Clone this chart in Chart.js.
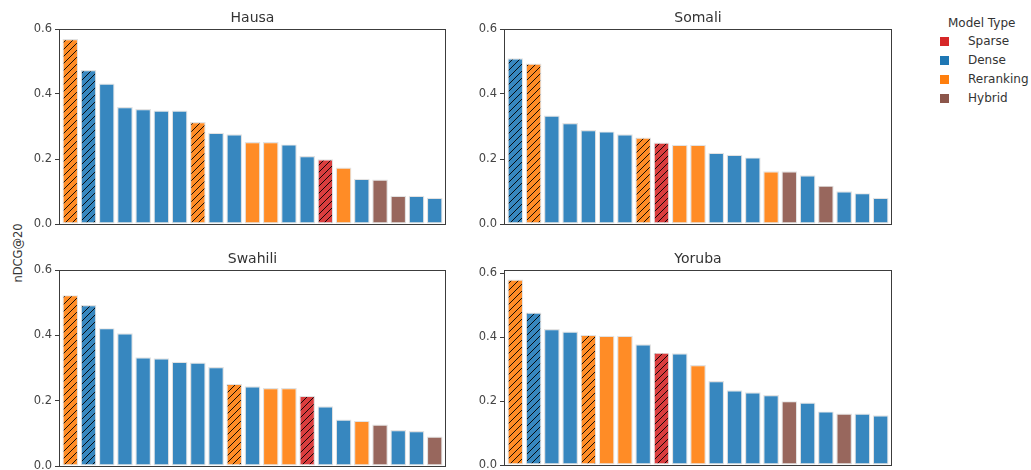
<!DOCTYPE html>
<html lang="en">
<head>
  <meta charset="UTF-8">
  <title>nDCG@20 by language</title>
  <script src="https://cdn.jsdelivr.net/npm/chart.js"></script>
  <style>
    body { margin: 0; background: #fff; font-family: "DejaVu Sans", sans-serif; }
    #page { position: relative; width: 1031px; height: 470px; overflow: hidden; }
    .panel { position: absolute; line-height: 0; }
    #ylabel { position: absolute; left: 18px; top: 253px; transform: translate(-50%, -50%) rotate(-90deg);
              font-size: 11.5px; color: #333; white-space: nowrap; }
    #legend { position: absolute; left: 930px; top: 13px; font-size: 12px; color: #333; }
    #legend .ttl { position: absolute; left: 51.7px; top: 9.7px; transform: translate(-50%, -50%); white-space: nowrap; }
    #legend .item { position: absolute; left: 10px; height: 14px; white-space: nowrap; }
    #legend .sw { position: absolute; left: 0; top: 2px; width: 9px; height: 9px; }
    #legend .lb { position: absolute; left: 28px; top: -1px; }
  </style>
</head>
<body>
<div id="page">
  <div id="ylabel">nDCG@20</div>
  <div id="legend"></div>
</div>

<script>
  // model types and colours
  const modelTypes = ["Sparse", "Dense", "Reranking", "Hybrid"];
  const legendColors = ["#d62728", "#1f77b4", "#ff7f0e", "#8c564b"];
  const barColors = ["#da3d3e", "#3787bf", "#ff8c26", "#98675d"];

  // Hausa
  const hausaScores = [0.569, 0.474, 0.432, 0.360, 0.354, 0.349, 0.349, 0.314, 0.281, 0.276, 0.252,
                       0.252, 0.245, 0.209, 0.199, 0.174, 0.139, 0.137, 0.087, 0.087, 0.081];
  const hausaTypes = ["Reranking", "Dense", "Dense", "Dense", "Dense", "Dense", "Dense", "Reranking", "Dense", "Dense", "Reranking",
                      "Reranking", "Dense", "Dense", "Sparse", "Reranking", "Dense", "Hybrid", "Hybrid", "Dense", "Dense"];
  const hausaHatch = [1, 1, 0, 0, 0, 0, 0, 1, 0, 0, 0, 0, 0, 0, 1, 0, 0, 0, 0, 0, 0];

  // Somali
  const somaliScores = [0.510, 0.494, 0.334, 0.311, 0.289, 0.285, 0.276, 0.266, 0.251, 0.244, 0.244,
                        0.219, 0.213, 0.205, 0.162, 0.162, 0.150, 0.118, 0.101, 0.095, 0.081];
  const somaliTypes = ["Dense", "Reranking", "Dense", "Dense", "Dense", "Dense", "Dense", "Reranking", "Sparse", "Reranking", "Reranking",
                       "Dense", "Dense", "Dense", "Reranking", "Hybrid", "Dense", "Hybrid", "Dense", "Dense", "Dense"];
  const somaliHatch = [1, 1, 0, 0, 0, 0, 0, 1, 1, 0, 0, 0, 0, 0, 0, 0, 0, 0, 0, 0, 0];

  // Swahili
  const swahiliScores = [0.523, 0.493, 0.422, 0.406, 0.333, 0.330, 0.319, 0.317, 0.303, 0.252, 0.244,
                         0.239, 0.239, 0.215, 0.183, 0.142, 0.138, 0.127, 0.110, 0.107, 0.090];
  const swahiliTypes = ["Reranking", "Dense", "Dense", "Dense", "Dense", "Dense", "Dense", "Dense", "Dense", "Reranking", "Dense",
                        "Reranking", "Reranking", "Sparse", "Dense", "Dense", "Reranking", "Hybrid", "Dense", "Dense", "Hybrid"];
  const swahiliHatch = [1, 1, 0, 0, 0, 0, 0, 0, 0, 1, 0, 0, 0, 1, 0, 0, 0, 0, 0, 0, 0];

  // Yoruba
  const yorubaScores = [0.581, 0.478, 0.426, 0.418, 0.408, 0.405, 0.405, 0.378, 0.352, 0.350, 0.313,
                        0.263, 0.234, 0.228, 0.219, 0.200, 0.196, 0.168, 0.161, 0.161, 0.156];
  const yorubaTypes = ["Reranking", "Dense", "Dense", "Dense", "Reranking", "Reranking", "Reranking", "Dense", "Sparse", "Dense", "Reranking",
                       "Dense", "Dense", "Dense", "Dense", "Hybrid", "Dense", "Dense", "Hybrid", "Dense", "Dense"];
  const yorubaHatch = [1, 1, 0, 0, 1, 0, 0, 0, 1, 0, 0, 0, 0, 0, 0, 0, 0, 0, 0, 0, 0];

  const yTicks = [0, 0.2, 0.4, 0.6];

  // hatched fill "//"
  function hatchPattern(color) {
    const c = document.createElement('canvas');
    c.width = c.height = 7;
    const g = c.getContext('2d');
    g.fillStyle = color;
    g.fillRect(0, 0, 7, 7);
    g.strokeStyle = 'rgba(0,0,0,0.9)';
    g.lineWidth = 1;
    g.beginPath();
    g.moveTo(0, 7); g.lineTo(7, 0);
    g.moveTo(-1, 1); g.lineTo(1, -1);
    g.moveTo(6, 8); g.lineTo(8, 6);
    g.stroke();
    return g.createPattern(c, 'repeat');
  }

  // frame (all four spines) + title above plot area
  const framePlugin = {
    id: 'frame',
    afterDatasetsDraw(chart, args, opts) {
      const a = chart.chartArea, ctx = chart.ctx;
      ctx.save();
      ctx.strokeStyle = '#3c3c3c';
      ctx.lineWidth = 1;
      ctx.strokeRect(a.left + 0.5, a.top + 0.5, a.right - a.left - 1, a.bottom - a.top);
      ctx.fillStyle = '#333';
      ctx.font = '14px "DejaVu Sans"';
      ctx.textAlign = 'center';
      ctx.textBaseline = 'alphabetic';
      ctx.fillText(opts.text, (a.left + a.right) / 2, a.top - 7);
      ctx.restore();
    }
  };

  const AXIS_W = 50, PAD_T = 30, PAD_R = 5, PAD_B = 10;

  function makePanel(title, scores, types, hatch, box, yMax) {
    const div = document.createElement('div');
    div.className = 'panel';
    div.style.left = (box.l - AXIS_W) + 'px';
    div.style.top = (box.t - PAD_T) + 'px';
    const cv = document.createElement('canvas');
    cv.width = box.r - box.l + AXIS_W + PAD_R;
    cv.height = box.b - box.t + PAD_T + PAD_B;
    div.appendChild(cv);
    document.getElementById('page').appendChild(div);

    const colors = types.map((t, i) => {
      const c = barColors[modelTypes.indexOf(t)];
      return hatch[i] ? hatchPattern(c) : c;
    });

    new Chart(cv.getContext('2d'), {
      type: 'bar',
      data: {
        datasets: [{
          data: scores.map((v, i) => ({ x: i, y: v })),
          backgroundColor: colors,
          borderColor: '#e2e2e2',
          borderWidth: 1.2,
          borderSkipped: false,
          barPercentage: 0.86,
          categoryPercentage: 1
        }]
      },
      options: {
        responsive: false,
        animation: false,
        layout: { padding: { top: PAD_T, right: PAD_R, bottom: PAD_B, left: 0 } },
        plugins: {
          legend: { display: false },
          tooltip: { enabled: false },
          frame: { text: title }
        },
        scales: {
          x: { type: 'linear', offset: false, min: -0.62, max: scores.length - 1 + 0.62, display: false },
          y: {
            min: 0, max: yMax,
            afterFit(s) { s.width = AXIS_W; s.paddingTop = 0; s.paddingBottom = 0; },
            afterBuildTicks(s) { s.ticks = yTicks.map(v => ({ value: v })); },
            border: { display: false },
            grid: { display: true, drawOnChartArea: false, drawTicks: true, tickLength: 4, color: '#3c3c3c' },
            ticks: {
              padding: 3,
              color: '#444',
              font: { family: 'DejaVu Sans', size: 11.5 },
              callback: v => v.toFixed(1)
            }
          }
        }
      },
      plugins: [framePlugin]
    });
  }

  makePanel('Hausa', hausaScores, hausaTypes, hausaHatch, { l: 59, r: 446, t: 29, b: 224 }, 0.6);
  makePanel('Somali', somaliScores, somaliTypes, somaliHatch, { l: 504, r: 892, t: 29, b: 224 }, 0.6);
  makePanel('Swahili', swahiliScores, swahiliTypes, swahiliHatch, { l: 59, r: 446, t: 270, b: 466 }, 0.6);
  makePanel('Yoruba', yorubaScores, yorubaTypes, yorubaHatch, { l: 504, r: 892, t: 270, b: 465 }, 0.611);

  // legend
  const lg = document.getElementById('legend');
  lg.innerHTML = '<div class="ttl">Model Type</div>';
  modelTypes.forEach((t, i) => {
    const it = document.createElement('div');
    it.className = 'item';
    it.style.top = (22 + i * 19) + 'px';
    it.innerHTML = '<span class="sw" style="background:' + legendColors[i] + '"></span><span class="lb">' + t + '</span>';
    lg.appendChild(it);
  });
</script>
</body>
</html>
